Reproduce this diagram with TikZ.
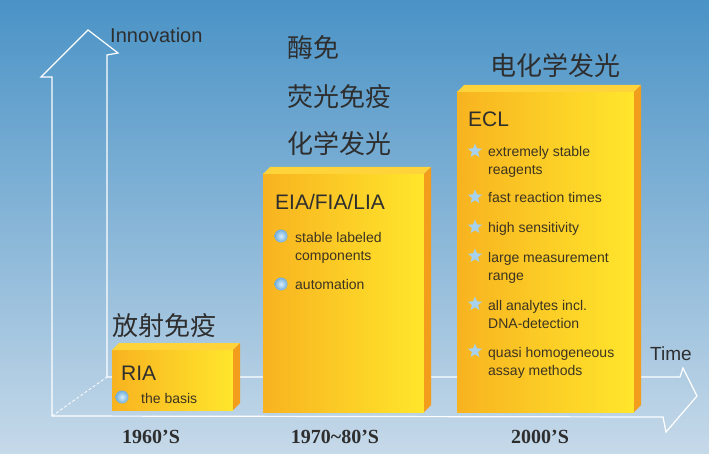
\documentclass[tikz,border=0pt]{standalone}
\usepackage{fontspec}
\setmainfont{Liberation Sans}
\newfontfamily\cjk{Noto Sans CJK SC}
\newfontfamily\yearfont{Liberation Serif}
\usetikzlibrary{shapes.geometric}

\definecolor{bgtop}{HTML}{4A93C6}
\definecolor{bgbottom}{HTML}{C6D9E9}
\definecolor{boxorange}{HTML}{F8B320}
\definecolor{boxyellow}{HTML}{FFE62C}
\definecolor{boxside}{HTML}{F29E1C}
\definecolor{boxtop}{HTML}{FFD43A}
\definecolor{inktext}{HTML}{2E2E2E}
\definecolor{itemtext}{HTML}{3C3422}
\definecolor{bulletblue}{HTML}{A6D2EE}
\definecolor{ballinner}{HTML}{D6ECFA}
\definecolor{ballouter}{HTML}{6FAEDB}

\tikzset{
  outline/.style={draw=white, line width=1.2pt, line join=miter},
  cntext/.style={font=\cjk\fontsize{26pt}{26pt}\selectfont, text=inktext, inner sep=0, anchor=west},
  axistext/.style={font=\fontsize{20pt}{20pt}\selectfont, text=inktext, inner sep=0, anchor=base west},
  boxtitle/.style={font=\fontsize{21pt}{21pt}\selectfont, text=inktext, inner sep=0, anchor=base west},
  item/.style={font=\fontsize{14pt}{18pt}\selectfont, text=itemtext, inner sep=0, anchor=base west, align=left},
  year/.style={font=\yearfont\bfseries\fontsize{20pt}{20pt}\selectfont, text=inktext, inner sep=0, anchor=base},
  ballbullet/.style={circle, inner sep=0, minimum size=13pt, inner color=ballinner, outer color=ballouter},
  starbullet/.style={star, star points=5, star point ratio=2.3, fill=bulletblue, inner sep=0, minimum size=15pt},
}

\begin{document}
\begin{tikzpicture}[x=1pt,y=-1pt]
  \pgfmathsetmacro{\bevel}{7}
  \shade[top color=bgtop, bottom color=bgbottom] (0,0) rectangle (709,454);
  \useasboundingbox (0,0) rectangle (709,454);
  % innovation and time arrows
  \draw[outline] (52,416) -- (52,77) -- (41,77) -- (88,30) -- (118,53) -- (107,55) -- (107,377)
    -- (680,377) -- (683,368) -- (697,396) -- (666,432) -- (663,417) -- cycle;
  \draw[white, line width=0.8pt, densely dashed] (52,416) -- (107,377);
  % boxes
  \foreach \name/\x/\y/\xx/\yy in {ria/112/343/240/410, eia/263/167/431/412, ecl/457/85/641/412}{
    \shade[left color=boxorange, right color=boxyellow] (\x,\y+\bevel) rectangle (\xx-\bevel,\yy);
    \fill[boxtop] (\x,\y+\bevel) -- (\x+\bevel,\y) -- (\xx,\y) -- (\xx-\bevel,\y+\bevel) -- cycle;
    \fill[boxside] (\xx-\bevel,\y+\bevel) -- (\xx,\y) -- (\xx,\yy-\bevel) -- (\xx-\bevel,\yy) -- cycle;
    \coordinate (\name) at (\x,\y);
  }
  \node[axistext] (innovation) at (110,43) {Innovation};
  \node[axistext, font=\fontsize{19pt}{19pt}\selectfont] (time) at (650,360) {Time};
  % chinese labels
  \node[cntext] (fangshe) at (112,326) {放射免疫};
  \node[cntext] (meimian) at (287,47.5) {酶免};
  \node[cntext] (yingguang) at (287,96.5) {荧光免疫};
  \node[cntext] (huaxue) at (287,144) {化学发光};
  \node[cntext] (dianhuaxue) at (490,66) {电化学发光};
  % box contents (y = baseline of last line)
  \node[boxtitle] (riatitle) at (121,380) {RIA};
  \node[ballbullet] (riaball) at (122,397) {};
  \node[item] (basis) at (141,403) {the basis};
  \node[boxtitle] (eiatitle) at (275,210) {EIA/FIA/LIA};
  \node[ballbullet] (eiaball1) at (281,236) {};
  \node[item] (stable) at (295,261) {stable labeled\\components};
  \node[ballbullet] (eiaball2) at (281,284) {};
  \node[item] (automation) at (295,290) {automation};
  \node[boxtitle] (ecltitle) at (468,127) {ECL};
  \foreach \ystar/\ypos/\txt [count=\i] in {151/175/{extremely stable\\reagents}, 197/203/{fast reaction times},
      227/233/{high sensitivity}, 256/280/{large measurement\\range}, 304/328/{all analytes incl.\\DNA-detection},
      351/375/{quasi homogeneous\\assay methods}}{
    \node[starbullet] (star\i) at (475,\ystar) {};
    \node[item] (eclitem\i) at (488,\ypos) {\txt};
  }
  % decades
  \node[year] (sixties) at (151,443) {1960’S};
  \node[year] (seventies) at (335,443) {1970\textasciitilde80’S};
  \node[year] (twothousands) at (540,443) {2000’S};
\end{tikzpicture}
\end{document}
